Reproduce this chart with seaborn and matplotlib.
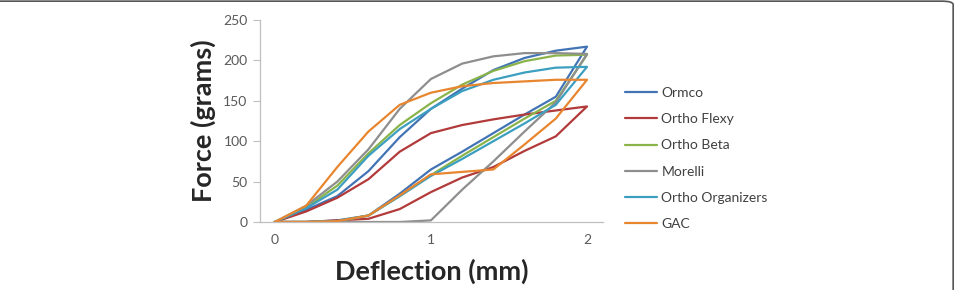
import numpy as np
import pandas as pd
import matplotlib.pyplot as plt
import seaborn as sns
from matplotlib.patches import FancyBboxPatch

# deflection steps (mm)
deflection = [0, 0.2, 0.4, 0.6, 0.8, 1.0, 1.2, 1.4, 1.6, 1.8, 2.0]

# loading curves, force in grams
ormco_load = [0, 15, 32, 63, 105, 140, 165, 188, 203, 212, 217]
flexy_load = [0, 13, 30, 53, 87, 110, 120, 127, 133, 138, 143]
beta_load = [0, 18, 45, 85, 120, 147, 170, 187, 199, 206, 207]
morelli_load = [0, 20, 50, 90, 140, 177, 196, 205, 209, 209, 208]
organizers_load = [0, 17, 40, 82, 115, 140, 162, 176, 185, 191, 192]
gac_load = [0, 20, 68, 112, 145, 160, 168, 172, 174, 176, 176]

# unloading curves (listed from 0 to 2 mm)
ormco_unload = [0, 0, 2, 8, 35, 65, 87, 110, 133, 155, 217]
flexy_unload = [0, 0, 2, 4, 16, 37, 55, 68, 88, 106, 143]
beta_unload = [0, 0, 1, 8, 32, 58, 82, 105, 128, 150, 207]
morelli_unload = [0, 0, 0, 0, 0, 2, 40, 75, 112, 148, 208]
organizers_unload = [0, 0, 1, 8, 32, 57, 78, 100, 122, 145, 192]
gac_unload = [0, 0, 1, 8, 33, 59, 62, 65, 96, 128, 176]

wires = ["Ormco", "Ortho Flexy", "Ortho Beta", "Morelli", "Ortho Organizers", "GAC"]
loads = [ormco_load, flexy_load, beta_load, morelli_load, organizers_load, gac_load]
unloads = [ormco_unload, flexy_unload, beta_unload, morelli_unload, organizers_unload, gac_unload]
colors = ["#4274B5", "#B23A3A", "#8AB44A", "#8E8E8E", "#3C9FC0", "#E8862F"]

rows = []
for name, ld, ul in zip(wires, loads, unloads):
    path_x = deflection + deflection[::-1][1:]
    path_y = ld + ul[::-1][1:]
    for i, (x, y) in enumerate(zip(path_x, path_y)):
        rows.append({"wire": name, "step": i, "x": x, "y": y})
df = pd.DataFrame(rows)

sns.set_style("white")
plt.rcParams['font.family'] = ['Lato', 'DejaVu Sans']

fig = plt.figure(figsize=(9.57, 2.9), dpi=100)
ax = fig.add_axes([0.2717, 0.2345, 0.358, 0.6966])

sns.lineplot(data=df, x="x", y="y", hue="wire", hue_order=wires, palette=colors,
             sort=False, estimator=None, linewidth=1.6, ax=ax)

ax.set_xlim(-0.095, 2.1)
ax.set_ylim(0, 250)
ax.set_xticks([0, 1, 2])
ax.set_yticks(np.arange(0, 251, 50))
ax.tick_params(axis='y', length=5, width=0.8, color='#BFBFBF', labelsize=10,
               labelcolor='#595959', pad=4, left=True)
ax.tick_params(axis='x', length=0, labelsize=10, labelcolor='#595959', pad=9)
for side in ['top', 'right']:
    ax.spines[side].set_visible(False)
for side in ['left', 'bottom']:
    ax.spines[side].set_color('#BFBFBF')
    ax.spines[side].set_linewidth(0.9)

ax.set_xlabel("Deflection (mm)", fontsize=19.5, fontweight='bold', labelpad=9)
ax.set_ylabel("Force (grams)", fontsize=19.5, fontweight='bold', labelpad=5)

leg = ax.legend(loc='upper left', bbox_to_anchor=(1.05, 0.695), frameon=False,
                fontsize=10, handlelength=2.3, handletextpad=0.3,
                labelspacing=1.02, borderaxespad=0)
for t in leg.get_texts():
    t.set_color('#404040')

frame = FancyBboxPatch((-0.05, -0.2), 1.046, 1.196, boxstyle="round,pad=0,rounding_size=0.012",
                       transform=fig.transFigure, fill=False, edgecolor='#555555',
                       linewidth=1.2, clip_on=False)
fig.patches.append(frame)

fig.savefig("out.png", dpi=100)
